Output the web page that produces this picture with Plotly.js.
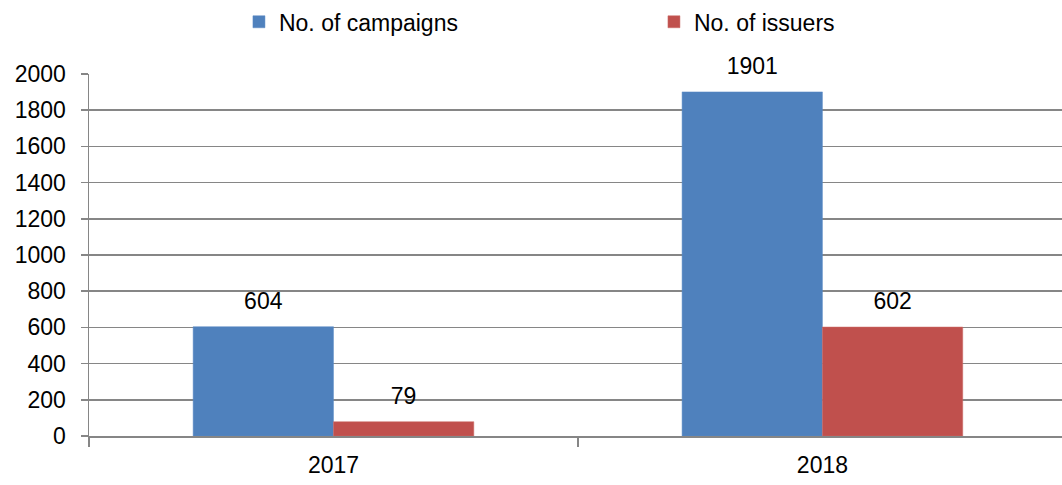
<!DOCTYPE html>
<html>
<head>
<meta charset="utf-8">
<script src="https://cdn.plot.ly/plotly-3.0.1.min.js"></script>
<style>html,body{margin:0;padding:0;background:#fff;}#chart{width:1062px;height:485px;}</style>
</head>
<body>
<div id="chart"></div>
<script>
var years = ['2017', '2018'];
var campaigns = [604, 1901];
var issuers = [79, 602];
var seriesNames = ['No. of campaigns', 'No. of issuers'];
var yTicks = [0, 200, 400, 600, 800, 1000, 1200, 1400, 1600, 1800, 2000];

var font = {family: 'Liberation Sans, Arial, sans-serif', size: 23, color: '#000'};

var traces = [
  {type: 'bar', name: seriesNames[0], x: years, y: campaigns, offsetgroup: 'a', alignmentgroup: 'g',
   marker: {color: '#4F81BD', line: {color: '#5B8BC5', width: 0.5}}},
  {type: 'bar', name: seriesNames[1], x: years, y: issuers, offsetgroup: 'b', alignmentgroup: 'g',
   marker: {color: '#C0504D', line: {color: '#CB6A67', width: 0.5}}},
  {type: 'scatter', mode: 'markers+text', x: years, y: campaigns, offsetgroup: 'a', alignmentgroup: 'g',
   text: campaigns.map(String), textposition: 'top center', textfont: font,
   marker: {size: 18, opacity: 0}, showlegend: false, cliponaxis: false, hoverinfo: 'skip'},
  {type: 'scatter', mode: 'markers+text', x: years, y: issuers, offsetgroup: 'b', alignmentgroup: 'g',
   text: issuers.map(String), textposition: 'top center', textfont: font,
   marker: {size: 18, opacity: 0}, showlegend: false, cliponaxis: false, hoverinfo: 'skip'}
];

var layout = {
  width: 1062, height: 485,
  margin: {l: 89, r: 0, t: 74, b: 49},
  paper_bgcolor: '#fff', plot_bgcolor: '#fff',
  font: font,
  barmode: 'group', scattermode: 'group',
  bargap: 0.426, bargroupgap: 0, scattergap: 0.426,
  showlegend: true,
  legend: {orientation: 'h', xref: 'container', yref: 'container',
           x: 0.2250, xanchor: 'left', y: 0.955, yanchor: 'middle',
           entrywidth: 370, entrywidthmode: 'pixels',
           font: font, traceorder: 'normal', itemwidth: 30},
  xaxis: {type: 'category', range: [-0.5, 1.49],
          showline: true, linecolor: '#868686', linewidth: 1.5,
          ticks: 'outside', tickson: 'boundaries', ticklen: 9, tickcolor: '#868686', tickwidth: 1.5,
          ticklabelstandoff: 8,
          showgrid: false, tickfont: font, fixedrange: true},
  yaxis: {range: [0, 2000], tickvals: yTicks, ticktext: yTicks.map(String),
          showline: true, linecolor: '#868686', linewidth: 1.5,
          ticks: 'outside', ticklen: 7, tickcolor: '#868686', tickwidth: 1.5,
          ticklabelstandoff: 10,
          showgrid: true, gridcolor: '#868686', gridwidth: 1.5,
          zeroline: false, tickfont: font, fixedrange: true}
};

Plotly.newPlot('chart', traces, layout, {displayModeBar: false, staticPlot: true});
</script>
</body>
</html>
